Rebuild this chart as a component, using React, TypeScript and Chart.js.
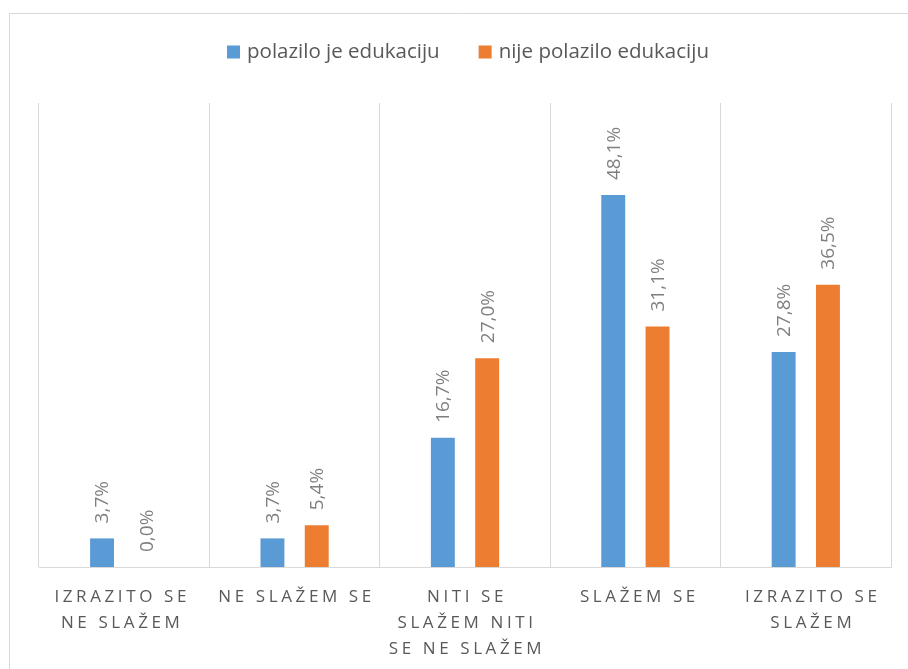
import React, { useEffect, useRef } from "react";
import { Chart, registerables } from "chart.js";

Chart.register(...registerables);

const categories: string[][] = [
  ["IZRAZITO SE", "NE SLAŽEM"],
  ["NE SLAŽEM SE"],
  ["NITI SE", "SLAŽEM NITI", "SE NE SLAŽEM"],
  ["SLAŽEM SE"],
  ["IZRAZITO SE", "SLAŽEM"],
];
const seriesNames = ["polazilo je edukaciju", "nije polazilo edukaciju"];
const attended = [3.7, 3.7, 16.7, 48.1, 27.8];
const notAttended = [0.0, 5.4, 27.0, 31.1, 36.5];
const colors = ["#5B9BD5", "#ED7D31"];

const FONT = "'Open Sans', 'Noto Sans', sans-serif";
const GRID = "#d9d9d9";
const labelNudge = [-4, 0, 0, 2, 5];

const customPlugin = {
  id: "custom",
  afterDraw(chart: any) {
    const ctx = chart.ctx as CanvasRenderingContext2D;
    const x = chart.scales.x;
    const area = chart.chartArea;

    // frame
    ctx.save();
    ctx.strokeStyle = GRID;
    ctx.lineWidth = 1;
    ctx.beginPath();
    ctx.moveTo(9.5, 669);
    ctx.lineTo(9.5, 13.5);
    ctx.lineTo(908, 13.5);
    ctx.stroke();
    ctx.restore();

    // data labels
    ctx.save();
    ctx.font = `19px ${FONT}`;
    ctx.fillStyle = "#7f7f7f";
    ctx.textAlign = "left";
    ctx.textBaseline = "middle";
    chart.data.datasets.forEach((ds: any, di: number) => {
      const meta = chart.getDatasetMeta(di);
      meta.data.forEach((bar: any, i: number) => {
        const v = ds.data[i] as number;
        const txt = v.toFixed(1).replace(".", ",") + "%";
        ctx.save();
        ctx.translate(bar.x + 1, bar.y - 15);
        ctx.rotate(-Math.PI / 2);
        ctx.fillText(txt, 0, 0);
        ctx.restore();
      });
    });
    ctx.restore();

    // category labels
    ctx.save();
    ctx.font = `17px ${FONT}`;
    ctx.fillStyle = "#595959";
    ctx.textAlign = "center";
    ctx.textBaseline = "middle";
    (ctx as any).letterSpacing = "3.6px";
    categories.forEach((lines, i) => {
      const cx = x.getPixelForValue(i) + 2 + labelNudge[i];
      lines.forEach((ln, li) => {
        ctx.fillText(ln, cx, area.bottom + 30 + li * 26);
      });
    });
    ctx.restore();

    // legend
    ctx.save();
    ctx.font = `20.5px ${FONT}`;
    ctx.textBaseline = "middle";
    ctx.textAlign = "left";
    const box = 13;
    const gapBoxText = 7;
    const gapItems = 39;
    const widths = seriesNames.map((n) => ctx.measureText(n).width);
    const total =
      widths.reduce((a, b) => a + b, 0) + seriesNames.length * (box + gapBoxText) + gapItems * (seriesNames.length - 1);
    let lx = 468 - total / 2;
    const ly = 52;
    seriesNames.forEach((n, i) => {
      ctx.fillStyle = colors[i];
      ctx.fillRect(lx, ly - box / 2, box, box);
      ctx.fillStyle = "#595959";
      ctx.fillText(n, lx + box + gapBoxText, ly);
      lx += box + gapBoxText + widths[i] + gapItems;
    });
    ctx.restore();
  },
};

export default function App() {
  const ref = useRef<HTMLCanvasElement | null>(null);
  useEffect(() => {
    if (!ref.current) return;
    const chart = new Chart(ref.current, {
      type: "bar",
      data: {
        labels: categories.map((c) => c.join(" ")),
        datasets: [
          { label: seriesNames[0], data: attended, backgroundColor: colors[0], categoryPercentage: 0.52, barPercentage: 0.54 },
          { label: seriesNames[1], data: notAttended, backgroundColor: colors[1], categoryPercentage: 0.52, barPercentage: 0.54 },
        ],
      },
      options: {
        animation: false,
        responsive: false,
        maintainAspectRatio: false,
        layout: { padding: { left: 39, right: 17, top: 103, bottom: 102 } },
        plugins: { legend: { display: false }, tooltip: { enabled: false } },
        scales: {
          x: {
            ticks: { display: false },
            grid: { color: GRID, lineWidth: 1, drawTicks: false, offset: true },
            border: { color: GRID, width: 1 },
          },
          y: { display: false, min: 0, max: 60 },
        },
      },
      plugins: [customPlugin],
    });
    return () => chart.destroy();
  }, []);
  return (
    <div style={{ position: "absolute", left: 0, top: 0, width: 908, height: 669, background: "#fff" }}>
      <canvas ref={ref} width={908} height={669} style={{ width: 908, height: 669, display: "block" }} />
    </div>
  );
}
